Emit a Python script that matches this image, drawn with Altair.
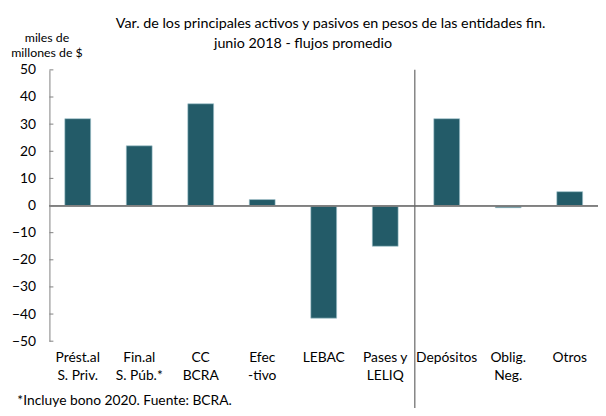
import altair as alt
import pandas as pd

categories = ["Prést.al|S. Priv.", "Fin.al|S. Púb.*", "CC|BCRA", "Efec|-tivo", "LEBAC",
              "Pases y|LELIQ", "Depósitos", "Oblig.|Neg.", "Otros"]
values = [32.0, 22.0, 37.5, 2.2, -41.5, -15.0, 32.0, -0.8, 5.1]
y_ticks = [-50, -40, -30, -20, -10, 0, 10, 20, 30, 40, 50]
title_line1 = "Var. de los principales activos y pasivos en pesos de las entidades fin."
title_line2 = "junio 2018 - flujos promedio"
y_title = ["miles de", "millones de $"]
footnote = "*Incluye bono 2020. Fuente: BCRA."
separator_after = "Pases y|LELIQ"

FONT = "Lato"
df = pd.DataFrame({"cat": categories, "val": values})
ticks_df = pd.DataFrame({"v": y_ticks})

xscale = alt.Scale(domain=categories, paddingInner=0.58, paddingOuter=0.25)
yscale = alt.Scale(domain=[-50, 50], nice=False)

y_axis = alt.Axis(values=y_ticks, title=y_title, grid=False, domainColor="#808080",
                  ticks=False, tickSize=0, labelPadding=14, labelFontSize=14,
                  labelOverlap=False, tickCount=11,
                  labelFont=FONT, labelColor="#000", titleFont=FONT, titleFontSize=12.5,
                  titleFontWeight="normal", titleColor="#000", titleAngle=0,
                  titleAlign="center", titleBaseline="alphabetic", titleX=-3, titleY=-29,
                  titleLineHeight=15)

bars = alt.Chart(df).mark_bar(color="#235B68", stroke="#9FC3CC", strokeWidth=0.6).encode(
    x=alt.X("cat:N", scale=xscale, sort=categories,
            axis=alt.Axis(title=footnote, labelExpr="split(datum.label, '|')", labelAngle=0,
                          domain=False, ticks=False, labelPadding=10, labelLineHeight=18,
                          labelFontSize=14, labelFont=FONT, labelColor="#000",
                          labelBaseline="top",
                          titleFont=FONT, titleFontSize=14, titleFontWeight="normal",
                          titleColor="#000", titleAnchor="start", titleAlign="left",
                          titleX=-33, titleY=64, titleBaseline="alphabetic")),
    y=alt.Y("val:Q", scale=yscale, axis=y_axis),
)

zero = alt.Chart(df).mark_rule(color="#808080", strokeWidth=1.2).encode(
    y=alt.Y(datum=0, scale=yscale, axis=y_axis))

inner_ticks = alt.Chart(ticks_df).mark_rule(color="#808080", strokeWidth=1).encode(
    y=alt.Y("v:Q", scale=yscale, axis=y_axis),
    x=alt.value(0), x2=alt.value(4))

sep = alt.Chart(pd.DataFrame({"cat": [separator_after]})).mark_rule(
    color="#666", strokeWidth=1.2, xOffset=30, clip=False).encode(
    x=alt.X("cat:N", scale=xscale, sort=categories),
    y=alt.value(0), y2=alt.value(345))

t1 = alt.Chart(pd.DataFrame({"t": [title_line1]})).mark_text(
    font=FONT, fontSize=14.5, color="#000", align="center", baseline="alphabetic").encode(
    text="t:N", x=alt.value(285), y=alt.value(-42))
t2 = alt.Chart(pd.DataFrame({"t": [title_line2]})).mark_text(
    font=FONT, fontSize=14.5, color="#000", align="center", baseline="alphabetic").encode(
    text="t:N", x=alt.value(257), y=alt.value(-22))

chart = alt.layer(bars, zero, inner_ticks, sep, t1, t2).properties(
    width=556, height=275,
    autosize=alt.AutoSizeParams(type="none"),
    padding={"left": 42, "top": 60, "right": 0, "bottom": 65},
).configure_view(stroke=None)

chart.save("out.html", embed_options={"renderer": "svg", "actions": False})
